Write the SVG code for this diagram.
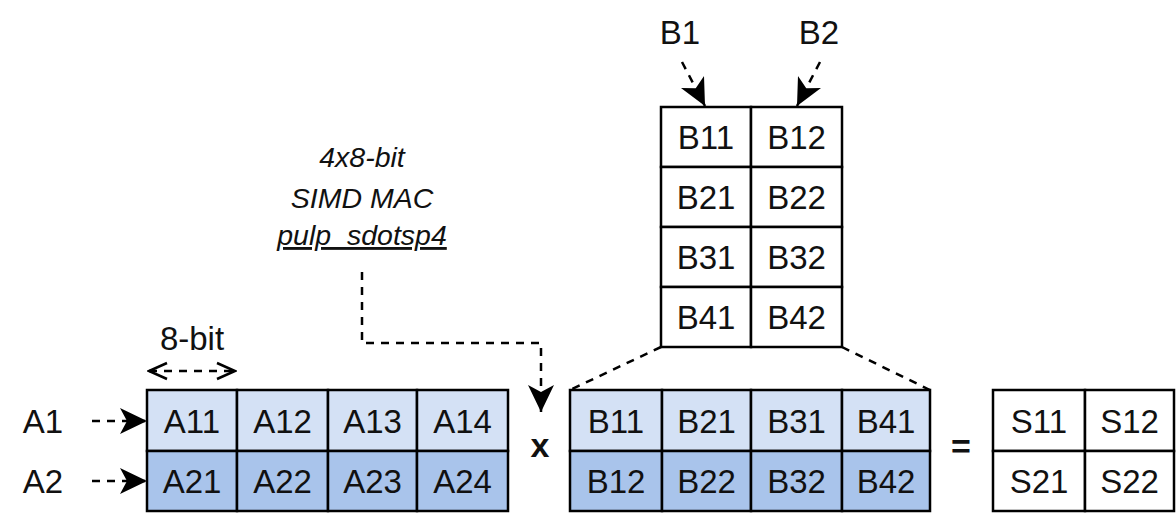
<svg xmlns="http://www.w3.org/2000/svg" width="1176" height="513" viewBox="0 0 1176 513">
<style>
.c{stroke:#000;stroke-width:2.5}
.w{fill:#fff}
.l{fill:#d4e1f5}
.d{fill:#a9c4eb}
text{font-family:"Liberation Sans",Arial,sans-serif;fill:#111}
.t{font-size:33px;text-anchor:middle}
.i{font-size:28.5px;font-style:italic;text-anchor:middle}
.dash{fill:none;stroke:#000;stroke-width:2.5;stroke-dasharray:8 7}
</style>
<defs>
<marker id="ah" markerUnits="userSpaceOnUse" markerWidth="28" markerHeight="26" viewBox="0 0 28 26" refX="27" refY="13" orient="auto"><path d="M0,0 L27,13 L0,26 L7,13 Z" fill="#000"/></marker>
<marker id="oa" markerUnits="userSpaceOnUse" markerWidth="22" markerHeight="20" viewBox="0 0 22 20" refX="20" refY="10" orient="auto-start-reverse"><path d="M2,2 L20,10 L2,18" fill="none" stroke="#000" stroke-width="2.5"/></marker>
</defs>
<rect width="1176" height="513" fill="#fff"/>

<g id="label-ops">
<text class="i" x="362" y="167">4x8-bit</text>
<text class="i" x="362" y="208">SIMD MAC</text>
<text class="i" x="362" y="245" text-decoration="underline">pulp_sdotsp4</text>
</g>

<g id="label-8bit"><text class="t" x="192" y="350">8-bit</text></g>
<g id="label-A1"><text class="t" x="43" y="433">A1</text></g>
<g id="label-A2"><text class="t" x="43" y="493">A2</text></g>
<g id="label-B1"><text class="t" x="680" y="44">B1</text></g>
<g id="label-B2"><text class="t" x="819" y="44">B2</text></g>
<g id="op-x"><text x="540" y="457" font-size="34" font-weight="bold" text-anchor="middle">x</text></g>
<g id="op-eq"><text x="961" y="458" font-size="34" font-weight="bold" text-anchor="middle">=</text></g>

<g id="matrix-A">
<rect class="c l" x="147" y="390" width="90" height="61"/>
<rect class="c l" x="237" y="390" width="91" height="61"/>
<rect class="c l" x="328" y="390" width="89" height="61"/>
<rect class="c l" x="417" y="390" width="91" height="61"/>
<rect class="c d" x="147" y="451" width="90" height="60"/>
<rect class="c d" x="237" y="451" width="91" height="60"/>
<rect class="c d" x="328" y="451" width="89" height="60"/>
<rect class="c d" x="417" y="451" width="91" height="60"/>
<text class="t" x="192" y="433">A11</text>
<text class="t" x="282.5" y="433">A12</text>
<text class="t" x="372.5" y="433">A13</text>
<text class="t" x="462.5" y="433">A14</text>
<text class="t" x="192" y="493">A21</text>
<text class="t" x="282.5" y="493">A22</text>
<text class="t" x="372.5" y="493">A23</text>
<text class="t" x="462.5" y="493">A24</text>
</g>

<g id="matrix-Bt">
<rect class="c l" x="570" y="390" width="92" height="61"/>
<rect class="c l" x="662" y="390" width="89" height="61"/>
<rect class="c l" x="751" y="390" width="91" height="61"/>
<rect class="c l" x="842" y="390" width="88" height="61"/>
<rect class="c d" x="570" y="451" width="92" height="60"/>
<rect class="c d" x="662" y="451" width="89" height="60"/>
<rect class="c d" x="751" y="451" width="91" height="60"/>
<rect class="c d" x="842" y="451" width="88" height="60"/>
<text class="t" x="616" y="433">B11</text>
<text class="t" x="706.5" y="433">B21</text>
<text class="t" x="796.5" y="433">B31</text>
<text class="t" x="886" y="433">B41</text>
<text class="t" x="616" y="493">B12</text>
<text class="t" x="706.5" y="493">B22</text>
<text class="t" x="796.5" y="493">B32</text>
<text class="t" x="886" y="493">B42</text>
</g>

<g id="matrix-B">
<rect class="c w" x="661" y="107" width="90" height="60"/>
<rect class="c w" x="751" y="107" width="91" height="60"/>
<rect class="c w" x="661" y="167" width="90" height="60"/>
<rect class="c w" x="751" y="167" width="91" height="60"/>
<rect class="c w" x="661" y="227" width="90" height="60"/>
<rect class="c w" x="751" y="227" width="91" height="60"/>
<rect class="c w" x="661" y="287" width="90" height="60"/>
<rect class="c w" x="751" y="287" width="91" height="60"/>
<text class="t" x="706" y="149">B11</text>
<text class="t" x="796.5" y="149">B12</text>
<text class="t" x="706" y="209">B21</text>
<text class="t" x="796.5" y="209">B22</text>
<text class="t" x="706" y="269">B31</text>
<text class="t" x="796.5" y="269">B32</text>
<text class="t" x="706" y="329">B41</text>
<text class="t" x="796.5" y="329">B42</text>
</g>

<g id="matrix-S">
<rect class="c w" x="993" y="390" width="92" height="61"/>
<rect class="c w" x="1085" y="390" width="89" height="61"/>
<rect class="c w" x="993" y="451" width="92" height="60"/>
<rect class="c w" x="1085" y="451" width="89" height="60"/>
<text class="t" x="1039" y="433">S11</text>
<text class="t" x="1129.5" y="433">S12</text>
<text class="t" x="1039" y="493">S21</text>
<text class="t" x="1129.5" y="493">S22</text>
</g>

<g id="connectors">
<path class="dash" d="M92,421 L147,421" marker-end="url(#ah)"/>
<path class="dash" d="M92,481 L147,481" marker-end="url(#ah)"/>
<path class="dash" d="M682,62 L705,106" marker-end="url(#ah)"/>
<path class="dash" d="M820,62 L797,106" marker-end="url(#ah)"/>
<path class="dash" d="M149,371 L235,371" marker-start="url(#oa)" marker-end="url(#oa)"/>
<path class="dash" d="M362,272 L362,343 L541,343 L541,412" marker-end="url(#ah)"/>
<path class="dash" d="M661,347 L570,390"/>
<path class="dash" d="M842,347 L930,390"/>
</g>
</svg>
